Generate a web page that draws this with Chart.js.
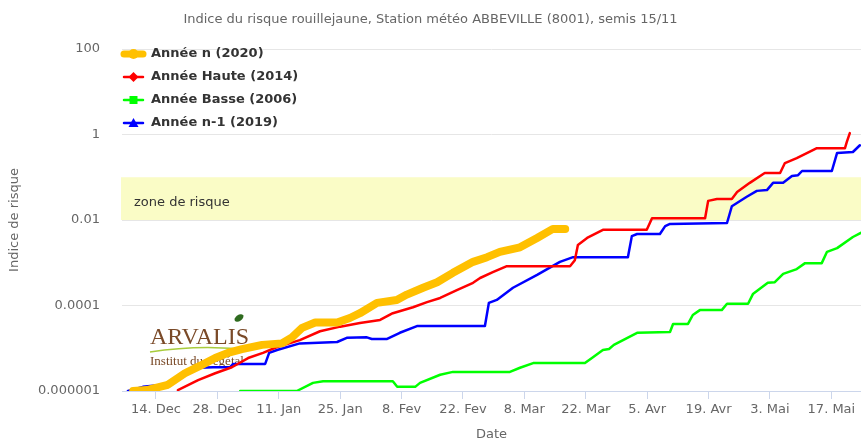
<!DOCTYPE html>
<html>
<head>
<meta charset="utf-8">
<script src="https://cdn.jsdelivr.net/npm/chart.js@4.4.1/dist/chart.umd.min.js"></script>
<style>
  html, body { margin: 0; padding: 0; background: #fff; }
</style>
</head>
<body>
<canvas id="myChart" width="861" height="442"></canvas>
<script>
//x axis: days counted from 14 Dec
const xTickDays = [0, 14, 28, 42, 56, 70, 84, 98, 112, 126, 140, 154];
const xTickLabels = ['14. Dec', '28. Dec', '11. Jan', '25. Jan', '8. Fev', '22. Fev', '8. Mar', '22. Mar', '5. Avr', '19. Avr', '3. Mai', '17. Mai'];
const yTickValues = [0.000001, 0.0001, 0.01, 1, 100];
const yTickLabels = ['0.000001', '0.0001', '0.01', '1', '100'];
const zoneRisque = [0.01, 0.1];

const seriesNames = ['Année n (2020)', 'Année Haute (2014)', 'Année Basse (2006)', 'Année n-1 (2019)'];

//Année n (2020)
const daysN = [-5.2, -2.1, 2.7, 6.6, 10.5, 13.5, 16.4, 19.6, 24.2, 28.7, 31.0, 33.3, 36.3, 41.3, 44.2, 46.5, 50.4, 54.9, 57.2, 60.9, 64.1, 67.7, 72.3, 75.5, 78.4, 83.0, 86.9, 90.5, 93.3];
const valuesN = [1.0e-6, 1.05e-6, 1.4e-6, 2.6e-6, 4.1e-6, 5.9e-6, 7.8e-6, 9.5e-6, 1.2e-5, 1.3e-5, 1.8e-5, 3.0e-5, 4.0e-5, 4.0e-5, 5.1e-5, 6.6e-5, 1.15e-4, 1.35e-4, 1.8e-4, 2.6e-4, 3.5e-4, 5.8e-4, 1.05e-3, 1.35e-3, 1.8e-3, 2.3e-3, 3.8e-3, 6.2e-3, 6.2e-3];

//Année Haute (2014)
const daysHaute = [5.0, 9.6, 13.5, 17.3, 21.0, 24.4, 27.6, 32.8, 37.4, 42.0, 46.5, 51.1, 54.0, 58.6, 61.8, 64.8, 68.6, 72.3, 73.9, 76.8, 80.0, 94.4, 95.5, 96.2, 98.3, 101.9, 111.9, 113.1, 125.2, 125.9, 127.9, 131.3, 132.5, 135.4, 138.8, 142.3, 143.4, 146.1, 150.7, 157.1, 157.5, 158.2];
const valuesHaute = [1.05e-6, 1.8e-6, 2.6e-6, 3.6e-6, 5.9e-6, 7.8e-6, 1.07e-5, 1.55e-5, 2.5e-5, 3.2e-5, 3.9e-5, 4.6e-5, 6.6e-5, 9.1e-5, 1.2e-4, 1.5e-4, 2.3e-4, 3.4e-4, 4.4e-4, 6.0e-4, 8.3e-4, 8.3e-4, 1.15e-3, 2.6e-3, 3.8e-3, 5.9e-3, 5.9e-3, 1.1e-2, 1.1e-2, 2.8e-2, 3.1e-2, 3.1e-2, 4.5e-2, 7.4e-2, 0.126, 0.126, 0.215, 0.28, 0.48, 0.48, 0.66, 1.08];

//Année Basse (2006)
const daysBasse = [19.2, 32.1, 35.8, 38.1, 54.0, 55.0, 59.1, 60.2, 64.8, 67.7, 80.7, 83.0, 86.0, 97.8, 99.4, 101.9, 103.3, 104.4, 109.7, 117.2, 117.9, 121.3, 122.4, 124.0, 129.0, 130.2, 135.0, 136.1, 139.5, 141.1, 143.0, 146.1, 148.0, 151.8, 153.0, 155.3, 158.9, 160.7];
const valuesBasse = [1.0e-6, 1.0e-6, 1.55e-6, 1.7e-6, 1.7e-6, 1.25e-6, 1.25e-6, 1.55e-6, 2.4e-6, 2.8e-6, 2.8e-6, 3.5e-6, 4.5e-6, 4.5e-6, 5.9e-6, 9.1e-6, 9.6e-6, 1.2e-5, 2.3e-5, 2.4e-5, 3.7e-5, 3.7e-5, 6.0e-5, 7.8e-5, 7.8e-5, 1.1e-4, 1.1e-4, 1.85e-4, 3.4e-4, 3.5e-4, 5.5e-4, 7.1e-4, 9.8e-4, 9.8e-4, 1.8e-3, 2.2e-3, 4.0e-3, 5.0e-3];

//Année n-1 (2019)
const daysN1 = [-6.4, -3.0, 1.6, 5.5, 10.0, 13.0, 16.9, 17.6, 24.9, 25.8, 27.6, 32.8, 41.3, 43.5, 48.1, 49.2, 52.7, 55.6, 59.5, 75.0, 75.9, 77.7, 81.4, 86.9, 92.1, 95.1, 107.6, 108.5, 109.7, 114.9, 116.1, 117.2, 130.2, 131.3, 134.7, 137.0, 139.3, 140.7, 143.0, 145.0, 146.4, 147.3, 154.1, 155.3, 158.9, 160.5];
const valuesN1 = [1.0e-6, 1.25e-6, 1.4e-6, 2.1e-6, 3.5e-6, 3.6e-6, 3.6e-6, 4.3e-6, 4.3e-6, 7.8e-6, 9.1e-6, 1.3e-5, 1.4e-5, 1.75e-5, 1.8e-5, 1.65e-5, 1.65e-5, 2.3e-5, 3.3e-5, 3.3e-5, 1.15e-4, 1.35e-4, 2.6e-4, 5.2e-4, 1.05e-3, 1.35e-3, 1.35e-3, 4.2e-3, 4.7e-3, 4.7e-3, 7.2e-3, 8.1e-3, 8.5e-3, 2.1e-2, 3.5e-2, 4.8e-2, 5.0e-2, 7.4e-2, 7.4e-2, 0.107, 0.112, 0.14, 0.14, 0.37, 0.39, 0.56];

const toPoints = (days, values) => days.map((d, i) => ({x: d, y: values[i]}));

const FONT = '"DejaVu Sans", sans-serif';
Chart.defaults.font.family = FONT;

const legendMarkers = ['circle', 'diamond', 'square', 'triangle'];

function drawMarker(ctx, type, x, y) {
  ctx.beginPath();
  if (type === 'circle') {
    ctx.arc(x, y, 5, 0, Math.PI * 2);
  } else if (type === 'diamond') {
    ctx.moveTo(x, y - 5); ctx.lineTo(x + 5, y); ctx.lineTo(x, y + 5); ctx.lineTo(x - 5, y);
  } else if (type === 'square') {
    ctx.rect(x - 4, y - 4, 8, 8);
  } else {
    ctx.moveTo(x, y - 5); ctx.lineTo(x + 5, y + 4); ctx.lineTo(x - 5, y + 4);
  }
  ctx.closePath();
  ctx.fill();
}

//risk band + logo behind the lines
const backgroundDeco = {
  id: 'backgroundDeco',
  beforeDatasetsDraw(chart) {
    const ctx = chart.ctx;
    const area = chart.chartArea;
    const yScale = chart.scales.y;
    const yTop = yScale.getPixelForValue(zoneRisque[1]);
    const yBot = yScale.getPixelForValue(zoneRisque[0]);
    ctx.save();
    ctx.fillStyle = '#fafcc6';
    ctx.fillRect(area.left - 1, yTop, area.right - area.left + 1, yBot - yTop);
    ctx.fillStyle = '#333';
    ctx.font = '13px ' + FONT;
    ctx.textBaseline = 'middle';
    ctx.fillText('zone de risque', area.left + 12, (yTop + yBot) / 2 + 4);

    //ARVALIS logo
    ctx.fillStyle = '#7a4a28';
    ctx.font = '24px "Liberation Serif", serif';
    ctx.textBaseline = 'alphabetic';
    ctx.fillText('ARVALIS', 150, 344);
    ctx.fillStyle = '#2f6b1f';
    ctx.beginPath();
    ctx.ellipse(239, 318, 5, 3, -0.6, 0, Math.PI * 2);
    ctx.fill();
    ctx.strokeStyle = '#a8cc3c';
    ctx.lineWidth = 1.5;
    ctx.beginPath();
    ctx.moveTo(150, 352);
    ctx.quadraticCurveTo(200, 344, 252, 350);
    ctx.stroke();
    ctx.fillStyle = '#7a4a28';
    ctx.font = '13px "Liberation Serif", serif';
    ctx.fillText('Institut du végétal', 150, 365);
    ctx.restore();
  }
};

//legend floating in the top left of the plot
const floatingLegend = {
  id: 'floatingLegend',
  afterDatasetsDraw(chart) {
    const ctx = chart.ctx;
    const left = chart.chartArea.left;
    ctx.save();
    ctx.font = 'bold 13px ' + FONT;
    ctx.textBaseline = 'middle';
    chart.data.datasets.forEach((ds, i) => {
      const y = chart.chartArea.top + 5 + i * 23;
      ctx.strokeStyle = ds.borderColor;
      ctx.lineWidth = i === 0 ? 7 : 2.5;
      ctx.lineCap = 'round';
      ctx.beginPath();
      ctx.moveTo(left + 2, y);
      ctx.lineTo(left + 21, y);
      ctx.stroke();
      ctx.fillStyle = ds.borderColor;
      drawMarker(ctx, legendMarkers[i], left + 11.5, y);
      ctx.fillStyle = '#333';
      ctx.fillText(ds.label, left + 29, y);
    });
    ctx.restore();
  }
};

const canvasElement = document.getElementById('myChart');

let config = {
  type: 'line',
  data: {
    datasets: [{
      label: seriesNames[0],
      data: toPoints(daysN, valuesN),
      borderColor: '#ffc000',
      borderWidth: 8
    }, {
      label: seriesNames[1],
      data: toPoints(daysHaute, valuesHaute),
      borderColor: '#ff0000',
      borderWidth: 2.5
    }, {
      label: seriesNames[2],
      data: toPoints(daysBasse, valuesBasse),
      borderColor: '#00ff00',
      borderWidth: 2.5
    }, {
      label: seriesNames[3],
      data: toPoints(daysN1, valuesN1),
      borderColor: '#0000ff',
      borderWidth: 2.5
    }]
  },
  options: {
    responsive: false,
    animation: false,
    layout: { padding: 0 },
    elements: {
      point: { radius: 0, hoverRadius: 0 },
      line: { tension: 0, borderCapStyle: 'round', borderJoinStyle: 'round', fill: false }
    },
    scales: {
      x: {
        type: 'linear',
        min: -7.75,
        max: 160.75,
        afterBuildTicks: (scale) => { scale.ticks = xTickDays.map(v => ({value: v})); },
        afterFit: (scale) => { scale.height = 51; },
        ticks: {
          callback: (v, i) => xTickLabels[i],
          autoSkip: false,
          maxRotation: 0,
          padding: 3,
          color: '#666',
          font: { size: 13 }
        },
        grid: { drawOnChartArea: false, color: '#ccd6eb', tickLength: 8 },
        border: { color: '#ccd6eb' },
        title: { display: true, text: 'Date', color: '#666', font: { size: 13 }, padding: { top: 0, bottom: 0 } }
      },
      y: {
        type: 'logarithmic',
        min: 0.000001,
        max: 100,
        afterBuildTicks: (scale) => { scale.ticks = yTickValues.map(v => ({value: v})); },
        afterFit: (scale) => { scale.width = 122; },
        ticks: {
          callback: (v, i) => yTickLabels[i],
          autoSkip: false,
          padding: 22,
          color: '#666',
          font: { size: 13 }
        },
        grid: { color: '#e6e6e6', drawTicks: false },
        border: { display: false },
        title: { display: true, text: 'Indice de risque', color: '#666', font: { size: 13 }, padding: { top: 7, bottom: 0 } }
      }
    },
    plugins: {
      legend: { display: false },
      tooltip: { enabled: false },
      title: {
        display: true,
        text: 'Indice du risque rouillejaune, Station météo ABBEVILLE (8001), semis 15/11',
        color: '#666',
        font: { size: 13, weight: 'normal' },
        padding: { top: 12, bottom: 21.4 }
      }
    }
  },
  plugins: [backgroundDeco, floatingLegend]
};

let newChart = new Chart(canvasElement, config);
</script>
</body>
</html>
